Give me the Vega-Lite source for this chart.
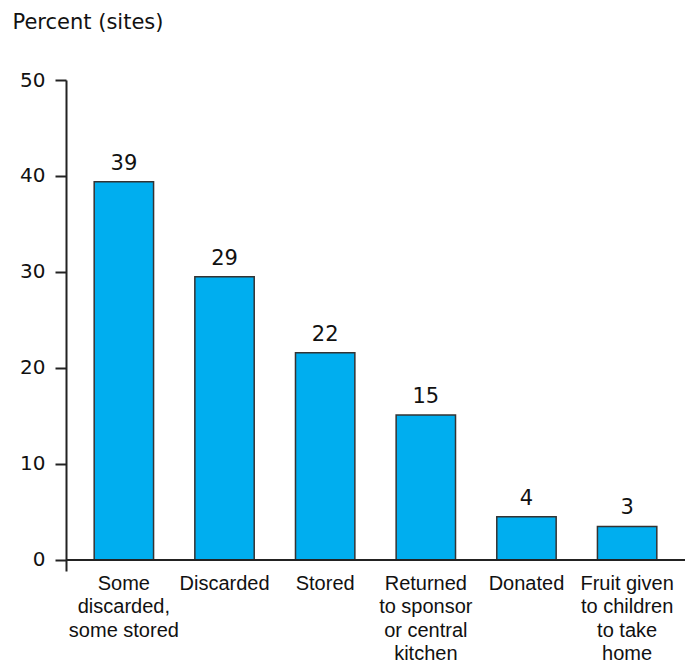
{
  "$schema": "https://vega.github.io/schema/vega-lite/v6.json",
  "width": 619,
  "height": 491,
  "autosize": "none",
  "padding": {"left": 66, "top": 80, "right": 0, "bottom": 93},
  "background": "white",
  "config": {"view": {"stroke": null}, "font": "Liberation Sans"},
  "data": {"values": [
    {"category": "Some|discarded,|some stored", "value": 39.4, "label": "39"},
    {"category": "Discarded", "value": 29.5, "label": "29"},
    {"category": "Stored", "value": 21.6, "label": "22"},
    {"category": "Returned|to sponsor|or central|kitchen", "value": 15.1, "label": "15"},
    {"category": "Donated", "value": 4.5, "label": "4"},
    {"category": "Fruit given|to children|to take|home", "value": 3.5, "label": "3"}
  ]},
  "encoding": {
    "x": {"field": "category", "type": "nominal", "sort": null,
      "scale": {"paddingInner": 0.41, "paddingOuter": 0.28},
      "axis": {"title": null, "domain": false, "ticks": false, "labelAngle": 0,
        "labelExpr": "split(datum.label, '|')", "labelFontSize": 20, "labelLineHeight": 23.5,
        "labelColor": "#111", "labelPadding": 2, "labelBaseline": "top", "labelFont": "Liberation Sans"}}
  },
  "layer": [
    {
      "mark": {"type": "bar", "color": "#00AEEF", "stroke": "#333", "strokeWidth": 1.5},
      "encoding": {
        "y": {"field": "value", "type": "quantitative",
          "scale": {"domain": [-1.146, 50], "nice": false, "zero": false},
          "axis": {"values": [0, 10, 20, 30, 40, 50], "grid": false, "domainColor": "#222", "domainWidth": 2,
            "tickColor": "#222", "tickWidth": 2, "tickSize": 11, "labelFontSize": 20, "labelColor": "#111",
            "labelFont": "DejaVu Sans", "labelPadding": 10,
            "title": "Percent (sites)", "titleAngle": 0, "titleAlign": "left", "titleBaseline": "middle",
            "titleX": -54, "titleY": -58, "titleFontSize": 21, "titleFont": "DejaVu Sans",
            "titleFontWeight": "normal", "titleColor": "#111"}},
        "y2": {"datum": 0}
      }
    },
    {
      "mark": {"type": "text", "baseline": "alphabetic", "dy": -12, "fontSize": 21, "font": "DejaVu Sans", "color": "#111"},
      "encoding": {
        "y": {"field": "value", "type": "quantitative"},
        "text": {"field": "label"}
      }
    },
    {
      "mark": {"type": "rule", "color": "#222", "strokeWidth": 2},
      "encoding": {"y": {"datum": 0}, "x": {"value": 0}, "x2": {"value": 619}}
    }
  ]
}
